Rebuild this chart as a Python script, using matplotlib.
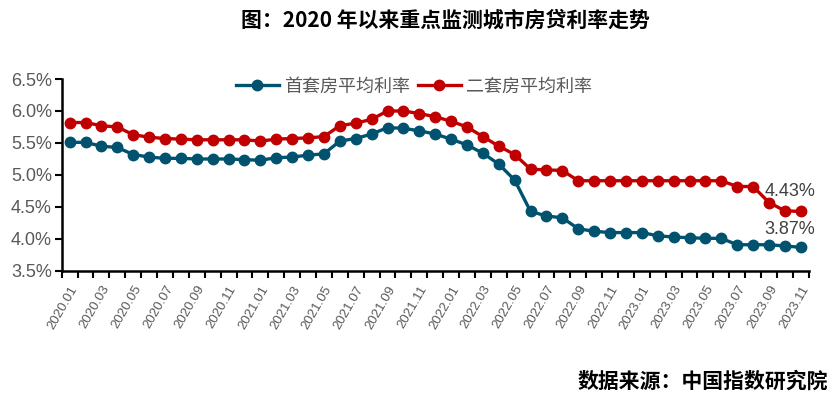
import matplotlib
matplotlib.use("Agg")
import matplotlib.pyplot as plt
import numpy as np

plt.rcParams['font.family'] = ['Liberation Sans', 'Noto Sans CJK SC', 'DejaVu Sans']

months = [f"{y}.{m:02d}" for y in range(2020, 2024) for m in range(1, 13)][:47]

first_home = [5.51, 5.51, 5.45, 5.43, 5.32, 5.28, 5.26, 5.26, 5.25, 5.25, 5.25, 5.24,
              5.23, 5.27, 5.28, 5.31, 5.33, 5.53, 5.57, 5.64, 5.74, 5.73, 5.69, 5.64,
              5.56, 5.47, 5.34, 5.17, 4.92, 4.43, 4.36, 4.33, 4.16, 4.12, 4.10, 4.10,
              4.10, 4.05, 4.03, 4.02, 4.01, 4.01, 3.91, 3.91, 3.91, 3.89, 3.87]
second_home = [5.82, 5.82, 5.77, 5.75, 5.63, 5.59, 5.57, 5.56, 5.55, 5.55, 5.55, 5.55,
               5.53, 5.56, 5.57, 5.58, 5.60, 5.77, 5.81, 5.87, 6.00, 6.00, 5.96, 5.91,
               5.84, 5.75, 5.60, 5.45, 5.32, 5.09, 5.08, 5.07, 4.91, 4.91, 4.91, 4.91,
               4.91, 4.91, 4.91, 4.91, 4.91, 4.91, 4.82, 4.82, 4.57, 4.44, 4.43]
series_names = ["首套房平均利率", "二套房平均利率"]
end_labels = ["3.87%", "4.43%"]
yticks = [3.5, 4.0, 4.5, 5.0, 5.5, 6.0, 6.5]

blue = "#00526F"
red = "#C00000"
gray = "#595959"

fig = plt.figure(figsize=(8.31, 3.95), dpi=100)
ax = fig.add_axes([0.0742, 0.314, 0.899, 0.486])

x = np.arange(len(months))
l1, = ax.plot(x, first_home, color=blue, lw=2.4, marker='o', ms=7.5, label=series_names[0])
l2, = ax.plot(x, second_home, color=red, lw=2.4, marker='o', ms=7.5, label=series_names[1])

ax.set_xlim(-0.5, len(months) - 0.5)
ax.set_ylim(3.5, 6.5)
ax.set_yticks(yticks)
ax.set_yticklabels([f"{v:.1f}%" for v in yticks], fontsize=13, color=gray)

ax.set_xticks(np.arange(-0.5, len(months), 1.0))
ax.set_xticklabels([])
ax.set_xticks(x[::2], minor=True)
ax.set_xticklabels(months[::2], minor=True, rotation=60, ha='right', va='top',
                   rotation_mode='anchor', fontsize=9.5, color=gray)
ax.tick_params(axis='x', which='major', length=5, width=1.5, color='black', direction='out')
ax.tick_params(axis='x', which='minor', length=0, pad=9)
ax.tick_params(axis='y', length=5, width=1.5, color='black', direction='out', pad=2)

for s in ['top', 'right']:
    ax.spines[s].set_visible(False)
for s in ['left', 'bottom']:
    ax.spines[s].set_linewidth(1.8)
    ax.spines[s].set_color('black')

ax.annotate(end_labels[1], (x[-1], second_home[-1]), xytext=(-8, 8), textcoords='offset points',
            ha='center', va='bottom', fontsize=13, color="#404040")
ax.annotate(end_labels[0], (x[-1], first_home[-1]), xytext=(-8, 7), textcoords='offset points',
            ha='center', va='bottom', fontsize=13, color="#404040")

leg = fig.legend(handles=[l1, l2], loc='center', bbox_to_anchor=(414 / 831, 1 - 87 / 395),
                 ncol=2, frameon=False, fontsize=13, handlelength=2.4, columnspacing=0.4,
                 handletextpad=0.3, borderaxespad=0)
for t in leg.get_texts():
    t.set_color(gray)

fig.text(445 / 831, 1 - 20 / 395, "图：2020 年以来重点监测城市房贷利率走势", ha='center', va='center',
         fontsize=15, fontweight='bold', family=['Noto Sans CJK SC', 'DejaVu Sans'])
fig.text(828 / 831, 1 - 381 / 395, "数据来源：中国指数研究院", ha='right', va='center',
         fontsize=15, fontweight='bold', family=['Noto Sans CJK SC', 'DejaVu Sans'])

fig.savefig("out.png", dpi=100)
